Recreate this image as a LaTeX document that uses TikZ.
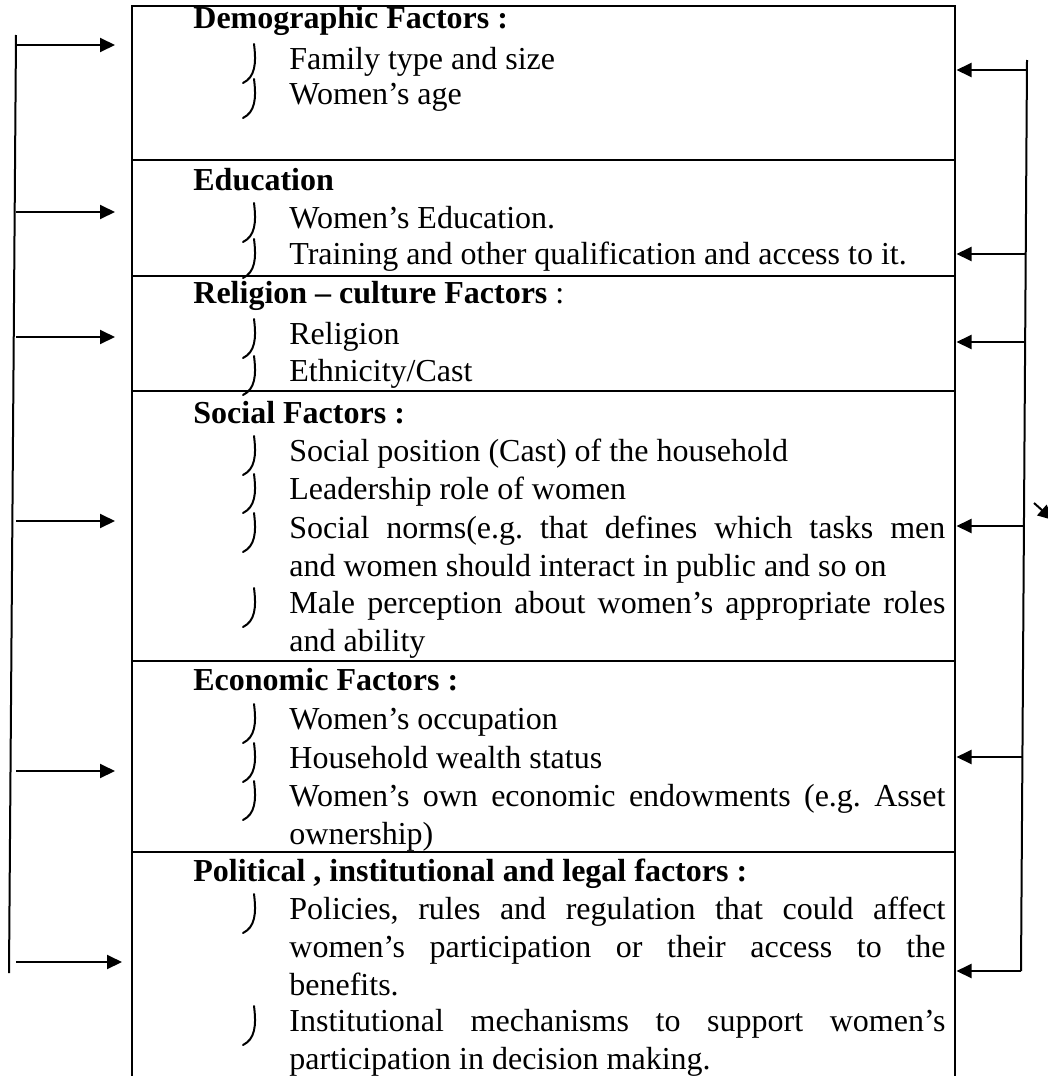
\documentclass[tikz,border=0pt]{standalone}
\usepackage{fontspec}
\setmainfont{Liberation Serif}
\usetikzlibrary{arrows.meta}
\tikzset{
	sect/.style={draw,line width=.75pt,minimum width=411.5pt,inner sep=0,anchor=north west},
	head/.style={anchor=base west,inner sep=0,font=\bfseries},
	itm/.style={anchor=base west,inner sep=0,text width=328pt,align=justify},
	bar/.style={line width=1pt},
	arr/.style={line width=1pt,-{Triangle[length=7.5pt,width=7pt]}},
	hook/.style={line width=1pt,line cap=round}
}
\begin{document}
\fontsize{16}{19}\selectfont\frenchspacing
\begin{tikzpicture}[x=.5pt,y=-.5pt]
	\useasboundingbox(0,0)rectangle(1048,1076);
	\clip(0,0)rectangle(1048,1076);
	% boxes
	\node[sect,minimum height=77pt](demo)at(131,5){};
	\node[sect,minimum height=58pt](edu)at(131,159){};
	\node[sect,minimum height=57.5pt](relig)at(131,275){};
	\node[sect,minimum height=135pt](social)at(131,390){};
	\node[sect,minimum height=95.5pt](econ)at(131,660){};
	\node[sect,minimum height=117pt](polit)at(131,851){};
	% headings
	\draw(193,28)node[head](hdemo){Demographic Factors :};
	\draw(193,190)node[head](hedu){Education};
	\draw(193,303)node[head](hrel){Religion – culture Factors \mdseries:};
	\draw(193,423)node[head](hsoc){Social Factors :};
	\draw(193,690)node[head](heco){Economic Factors :};
	\draw(193,881)node[head](hpol){Political , institutional and legal factors :};
	% items
	\draw(289,69)node[itm](i1){Family type and size};
	\draw(289,104)node[itm](i2){Women’s age};
	\draw(289,228)node[itm](i3){Women’s Education.};
	\draw(289,264)node[itm](i4){Training and other qualification and access to it.};
	\draw(289,344)node[itm](i5){Religion};
	\draw(289,381)node[itm](i6){Ethnicity/Cast};
	\draw(289,461)node[itm](i7){Social position (Cast) of the household};
	\draw(289,499)node[itm](i8){Leadership role of women};
	\draw(289,538)node[itm](i9){Social norms(e.g. that defines which tasks men\linebreak and women should interact in public and so on};
	\draw(289,613)node[itm](i10){Male perception about women’s appropriate roles\linebreak and ability};
	\draw(289,729)node[itm](i11){Women’s occupation};
	\draw(289,768)node[itm](i12){Household wealth status};
	\draw(289,806)node[itm](i13){Women’s own economic endowments (e.g. Asset\linebreak ownership)};
	\draw(289,919)node[itm](i14){Policies, rules and regulation that could affect\linebreak women’s participation or their access to the\linebreak benefits.};
	\draw(289,1031)node[itm](i15){Institutional mechanisms to support women’s\linebreak participation in decision making.};
	% bullets
	\foreach \b in {69,104,228,264,344,381,461,499,538,613,729,768,806,919,1031}
		\draw[hook](254,\b-25)..controls(256.5,\b-5)and(255,\b+8)..(243,\b+14);
	% left bar
	\coordinate(ltop)at(16,35);
	\coordinate(lbot)at(9,973);
	\draw[bar](ltop)--(lbot);
	\foreach \y/\s/\g in {45/demo/8pt,212/edu/8pt,337/relig/8pt,521/social/8pt,771/econ/8pt,962/polit/4.5pt}{
		\coordinate(l\y)at(16,\y);
		\draw[arr,shorten >=\g](l\y)--(l\y-|\s.west);
	}
	% right bar
	\coordinate(rtop)at(1027,60);
	\coordinate(rbot)at(1021,971);
	\draw[bar](rtop)--(rbot);
	\foreach \y/\s in {70/demo,254/edu,342/relig,526/social,757/econ,971/polit}{
		\coordinate(r\y)at({1027-6*(\y-60)/911},\y);
		\draw[arr,shorten >=.5pt](r\y)--(r\y-|\s.east);
	}
	% stray arrow at the edge
	\coordinate(sa)at(1034,503);
	\coordinate(sb)at(1053,520);
	\draw[arr](sa)--(sb);
\end{tikzpicture}
\end{document}
